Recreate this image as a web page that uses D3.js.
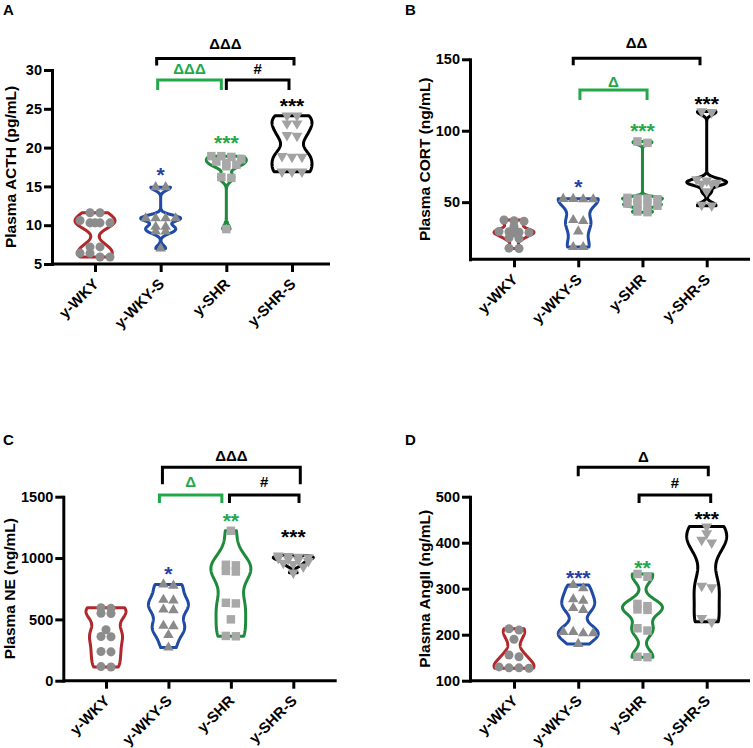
<!DOCTYPE html>
<html><head><meta charset="utf-8">
<script src="https://cdn.jsdelivr.net/npm/d3@7"></script>
<style>
body{margin:0;background:#fff}
svg{display:block}
text{font-family:"Liberation Sans",Arial,sans-serif;font-weight:bold}
</style>
</head><body><svg id="chart" width="753" height="748"></svg>
<script>
// ---------------- DATA ----------------
const groups = ["y-WKY", "y-WKY-S", "y-SHR", "y-SHR-S"];

// A: Plasma ACTH (pg/mL)
const acthWKY  = [11.6, 11.6, 10.6, 10.3, 10.3, 10.3, 10.3, 7.2, 7.2, 6.4, 6.4, 5.9, 5.9];
const acthWKYS = [14.9, 14.9, 10.9, 10.9, 10.9, 10.9, 9.8, 9.8, 9.2, 9.2, 7.0];
const acthSHR  = [18.9, 18.9, 18.8, 18.5, 18.2, 18.0, 17.8, 17.6, 16.2, 16.1, 9.5];
const acthSHRS = [24.1, 24.1, 23.1, 23.1, 21.6, 21.5, 18.9, 18.8, 18.8, 16.9, 16.9, 16.9];
const acthTicks = [5, 10, 15, 20, 25, 30];
const acthStars = ["", "*", "***", "***"];
const acthBrackets = [[1, 3, "ΔΔΔ"], [1, 2, "ΔΔΔ"], [2, 3, "#"]];

// B: Plasma CORT (ng/mL)
const cortWKY  = [37.5, 37.0, 36.6, 33.0, 29.5, 29.3, 29.0, 28.8, 28.5, 25.0, 24.5, 17.8, 17.6];
const cortWKYS = [52.3, 52.0, 52.0, 52.3, 37.5, 36.8, 29.5, 18.6, 18.6];
const cortSHR  = [92.5, 91.5, 53.0, 52.5, 52.5, 52.0, 49.0, 48.5, 48.0, 47.5, 43.5, 43.0];
const cortSHRS = [113.5, 113.0, 66.0, 65.0, 63.5, 63.0, 63.0, 57.5, 48.0, 47.5];
const cortTicks = [50, 100, 150];
const cortStars = ["", "*", "***", "***"];
const cortBrackets = [[1, 3, "ΔΔ"], [1, 2, "Δ"]];

// C: Plasma NE (ng/mL)
const neWKY  = [595, 590, 550, 548, 415, 360, 358, 238, 235, 115, 112];
const neWKYS = [785, 775, 660, 655, 580, 575, 448, 445, 372, 270];
const neSHR  = [1222, 945, 940, 895, 890, 635, 630, 500, 365, 362];
const neSHRS = [1020, 1015, 1010, 1005, 1000, 990, 985, 975, 960, 950, 930, 880];
const neTicks = [0, 500, 1000, 1500];
const neStars = ["", "*", "**", "***"];
const neBrackets = [[1, 3, "ΔΔΔ"], [1, 2, "Δ"], [2, 3, "#"]];

// D: Plasma AngII (ng/mL)
const angWKY  = [213, 210, 190, 156, 152, 130, 128, 128, 127];
const angWKYS = [308, 301, 277, 274, 258, 254, 206, 206, 203, 203, 180];
const angSHR  = [332, 326, 267, 262, 255, 254, 214, 209, 152, 151];
const angSHRS = [435, 420, 406, 400, 306, 303, 236, 228];
const angTicks = [100, 200, 300, 400, 500];
const angStars = ["", "***", "**", "***"];
const angBrackets = [[1, 3, "Δ"], [2, 3, "#"]];

// ---------------- STYLE / LAYOUT ----------------
const RED = "#b0282c", BLUE = "#1f4aa5", GREEN = "#1f8a3c", BLACK = "#000";
const GREEN_TXT = "#22a84a", BLUE_TXT = "#2540a2";
const groupColors = [RED, BLUE, GREEN, BLACK];
const starColors = [BLACK, BLUE_TXT, GREEN_TXT, BLACK];
const pointFill = ["#8c8c8c", "#8a8a8a", "#a8a8a8", "#a2a2a2"];
const symbols = [
  {type: d3.symbolCircle, size: 64, rot: 0},
  {type: d3.symbolTriangle, size: 48, rot: 0},
  {type: d3.symbolSquare, size: 72, rot: 0},
  {type: d3.symbolTriangle, size: 52, rot: 180}
];

const panels = [
  {letter: "A", yTitle: "Plasma ACTH (pg/mL)", domain: [5, 30], ticks: acthTicks,
   series: [acthWKY, acthWKYS, acthSHR, acthSHRS], stars: acthStars, brackets: acthBrackets},
  {letter: "B", yTitle: "Plasma CORT (ng/mL)", domain: [10, 150], ticks: cortTicks,
   series: [cortWKY, cortWKYS, cortSHR, cortSHRS], stars: cortStars, brackets: cortBrackets},
  {letter: "C", yTitle: "Plasma NE (ng/mL)", domain: [0, 1500], ticks: neTicks,
   series: [neWKY, neWKYS, neSHR, neSHRS], stars: neStars, brackets: neBrackets},
  {letter: "D", yTitle: "Plasma AngII (ng/mL)", domain: [100, 500], ticks: angTicks,
   series: [angWKY, angWKYS, angSHR, angSHRS], stars: angStars, brackets: angBrackets}
];

const layouts = [
  {x0: 52, x1: 330, y0: 264, y1: 70, c0: 95, c1: 292, lx: 3, ly: 15, tx: 16,
   starDy: [0, 17, 18, 15],
   br: [{y: 58.5, leg: 7, dx: [-4, 2], ldy: 15, col: BLACK},
        {y: 80, leg: 10, dx: [-3, -5], ldy: 12, col: GREEN_TXT},
        {y: 80, leg: 10, dx: [0, -3], ldy: 12, col: BLACK}]},
  {x0: 470, x1: 750, y0: 259.3, y1: 59.3, c0: 514, c1: 706.7, lx: 405, ly: 15, tx: 430,
   starDy: [0, 17, 15.5, 12.5],
   br: [{y: 58.3, leg: 7, dx: [-5, -6.7], ldy: 15.6, col: BLACK},
        {y: 90, leg: 10, dx: [1.7, 4.6], ldy: 9, col: GREEN_TXT}]},
  {x0: 63.3, x1: 336.7, y0: 680.7, y1: 496.7, c0: 106, c1: 293.3, lx: 3, ly: 445, tx: 15,
   starDy: [0, 15, 15, 24],
   br: [{y: 467.3, leg: 17, dx: [-6, 7], ldy: 12, col: BLACK},
        {y: 495, leg: 8, dx: [-9, -9], ldy: 13.3, col: GREEN_TXT},
        {y: 495, leg: 8, dx: [-1.4, 5.7], ldy: 13.3, col: BLACK}]},
  {x0: 470, x1: 750, y0: 680.7, y1: 496.7, c0: 514, c1: 706.7, lx: 405, ly: 445, tx: 430,
   starDy: [0, 12, 10.7, 13],
   br: [{y: 467.3, leg: 9, dx: [0, 1.6], ldy: 11, col: BLACK},
        {y: 495, leg: 8, dx: [-3.4, 4], ldy: 13, col: BLACK}]}
];

const HALF_W = 20;      // violin max half-width (px)
const BW_FACTOR = 0.7;  // smoothing relative to Silverman's rule

// ---------------- HELPERS ----------------
function bandwidth(vals) {
  const n = vals.length;
  const sd = d3.deviation(vals);
  const s = vals.slice().sort(d3.ascending);
  const iqr = d3.quantileSorted(s, 0.75) - d3.quantileSorted(s, 0.25);
  let a = Math.min(sd, iqr / 1.34);
  if (!(a > 0)) a = sd;
  return 0.9 * a * Math.pow(n, -0.2) * BW_FACTOR;
}
function kdeProfile(vals, steps) {
  const h = bandwidth(vals);
  const lo = d3.min(vals), hi = d3.max(vals);
  const grid = d3.range(steps + 1).map(i => lo + (hi - lo) * i / steps);
  const dens = grid.map(t => d3.sum(vals, v => Math.exp(-0.5 * ((t - v) / h) ** 2)));
  const m = d3.max(dens);
  return grid.map((t, i) => [t, dens[i] / m]);
}
// rows of near-equal values, spread horizontally and centred (max 4 per row)
function rowOffsets(vals, y, spacing, thr, maxPer) {
  const idx = d3.range(vals.length).sort((a, b) => vals[b] - vals[a]);
  const rows = [];
  let cur = null;
  idx.forEach(i => {
    const py = y(vals[i]);
    if (!cur || Math.abs(py - cur.py) > thr || cur.items.length >= maxPer) {
      cur = {py: py, items: []}; rows.push(cur);
    }
    cur.items.push(i);
  });
  const off = new Array(vals.length).fill(0);
  rows.forEach(r => {
    const k = r.items.length;
    r.items.forEach((i, j) => { off[i] = (j - (k - 1) / 2) * spacing; });
  });
  return off;
}

// ---------------- DRAW ----------------
const svg = d3.select("#chart");
const FONT = '"Liberation Sans",Arial,sans-serif';

panels.forEach((p, pi) => {
  const L = layouts[pi];
  const g = svg.append("g");
  const y = d3.scaleLinear().domain(p.domain).range([L.y0, L.y1]);
  const x = d3.scalePoint().domain(groups).range([L.c0, L.c1]);

  // violins
  p.series.forEach((vals, gi) => {
    const cx = x(groups[gi]);
    const prof = kdeProfile(vals, 120);
    const left = prof.map(d => [cx - d[1] * HALF_W, y(d[0])]);
    const right = prof.slice().reverse().map(d => [cx + d[1] * HALF_W, y(d[0])]);
    g.append("path")
      .attr("d", d3.line().curve(d3.curveLinearClosed)(left.concat(right)))
      .attr("fill", "none")
      .attr("stroke", groupColors[gi])
      .attr("stroke-width", 3)
      .attr("stroke-linejoin", "round");
  });

  // points
  p.series.forEach((vals, gi) => {
    const cx = x(groups[gi]);
    const off = rowOffsets(vals, y, 10, 4, 4);
    const sym = symbols[gi];
    g.append("g").selectAll("path").data(vals).join("path")
      .attr("d", d3.symbol().type(sym.type).size(sym.size))
      .attr("transform", (d, i) => `translate(${cx + off[i]},${y(d)}) rotate(${sym.rot})`)
      .attr("fill", pointFill[gi]);
  });

  // y axis
  const ya = g.append("g").attr("transform", `translate(${L.x0},0)`)
    .call(d3.axisLeft(y).tickValues(p.ticks).tickFormat(d3.format("d"))
      .tickSize(8).tickSizeOuter(0).tickPadding(2));
  ya.select(".domain").attr("stroke-width", 3).attr("stroke-linecap", "square");
  ya.selectAll(".tick line").attr("stroke-width", 3);
  ya.selectAll(".tick text").attr("font-size", 14.5).attr("fill", "#000")
    .attr("font-family", FONT).attr("font-weight", "bold");

  // x axis
  g.append("line").attr("x1", L.x0).attr("x2", L.x1).attr("y1", L.y0).attr("y2", L.y0)
    .attr("stroke", "#000").attr("stroke-width", 3);
  const xa = g.append("g").attr("transform", `translate(0,${L.y0})`)
    .call(d3.axisBottom(x).tickSize(8).tickSizeOuter(0));
  xa.select(".domain").remove();
  xa.selectAll(".tick line").attr("stroke-width", 3);
  xa.selectAll(".tick text")
    .attr("x", 0).attr("y", 0).attr("dy", 0)
    .attr("transform", "translate(4,21) rotate(-45)")
    .attr("text-anchor", "end")
    .attr("font-size", 15).attr("fill", "#000")
    .attr("font-family", FONT).attr("font-weight", "bold");

  // y title
  g.append("text")
    .attr("transform", `translate(${L.tx},${(L.y0 + L.y1) / 2}) rotate(-90)`)
    .attr("text-anchor", "middle").attr("font-size", 15.5).text(p.yTitle);

  // panel letter
  g.append("text").attr("x", L.lx).attr("y", L.ly).attr("font-size", 15).text(p.letter);

  // stars
  p.stars.forEach((s, gi) => {
    if (!s) return;
    const top = y(d3.max(p.series[gi]));
    g.append("text").attr("x", x(groups[gi])).attr("y", top - L.starDy[gi] + 12)
      .attr("text-anchor", "middle").attr("font-size", 21)
      .attr("fill", starColors[gi]).text(s);
  });

  // brackets
  p.brackets.forEach((b, bi) => {
    const st = L.br[bi];
    const xa1 = x(groups[b[0]]) + st.dx[0], xa2 = x(groups[b[1]]) + st.dx[1];
    g.append("path")
      .attr("d", `M${xa1},${st.y + st.leg}V${st.y}H${xa2}V${st.y + st.leg}`)
      .attr("fill", "none").attr("stroke", st.col).attr("stroke-width", 3)
      .attr("stroke-linejoin", "miter");
    g.append("text").attr("x", (xa1 + xa2) / 2).attr("y", st.y - st.ldy)
      .attr("dominant-baseline", "central")
      .attr("text-anchor", "middle").attr("font-size", 15)
      .attr("fill", st.col).text(b[2]);
  });
});
</script>
</body></html>
